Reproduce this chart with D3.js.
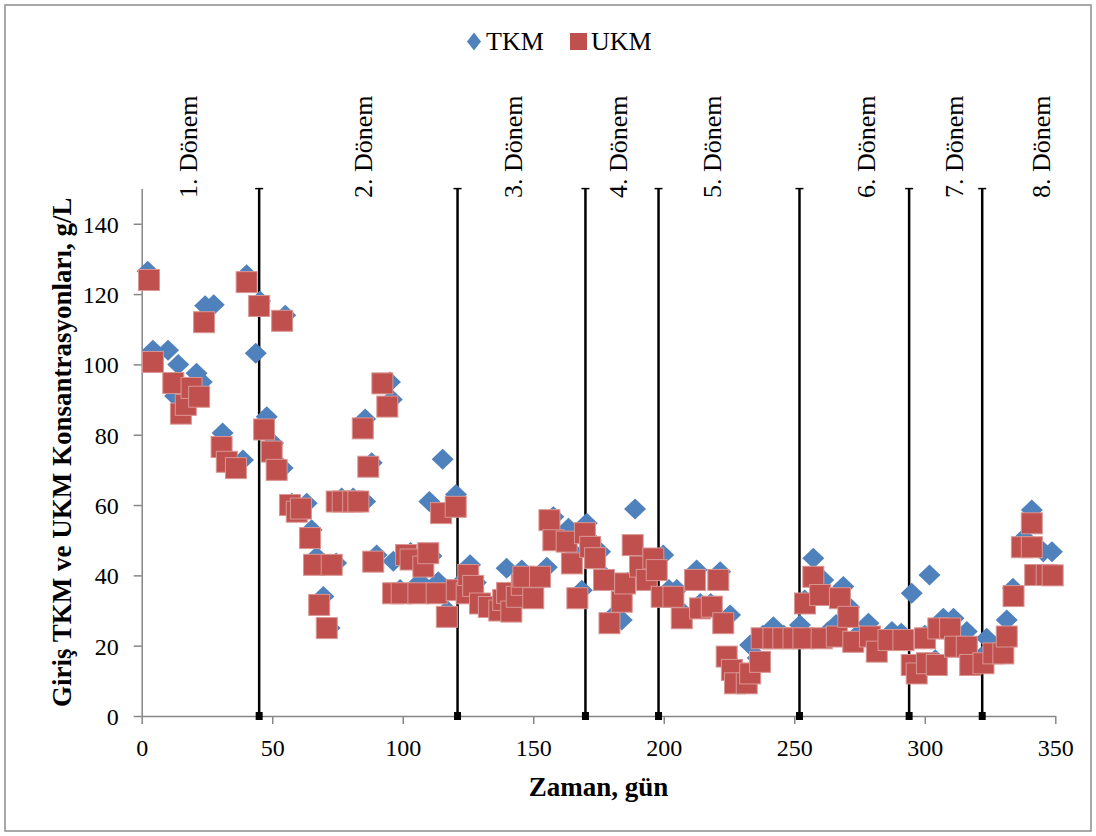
<!DOCTYPE html>
<html>
<head>
<meta charset="utf-8">
<script src="https://cdn.jsdelivr.net/npm/d3@7"></script>
<style>
  body { margin: 0; background: #fff; }
  svg text { font-family: "Liberation Serif", "Times New Roman", serif; }
</style>
</head>
<body>
<div id="chart"></div>
<script>
// TKM (blue diamonds)
const tkmDays = [2.3, 4.3, 10.1, 12.8, 14, 21, 23, 24.3, 27.6, 31, 38.8, 40.2, 43.7, 45.3, 47.9, 50.3, 54, 55, 57.5, 63.2,
  65.1, 67, 69.6, 72, 74.5, 76.6, 81, 85.6, 85.6, 88.1, 90, 95.1, 95.8, 96.4, 99, 103, 106.6, 110.2, 111, 113.6,
  115.3, 117, 120.4, 121, 125.8, 128, 132, 136, 139.8, 145.6, 150, 152, 155.2, 157.7, 160, 163.5, 166, 168.6, 170.5, 172,
  175.6, 177, 180, 183.9, 186, 189, 191, 194, 197, 199.8, 202, 205, 208, 212.6, 214, 218, 221.6, 225.4, 226, 228,
  231, 233.1, 236, 238, 242, 246, 250, 252.2, 254, 257.3, 261.1, 263, 266, 268.8, 271, 274, 278.4, 282, 287.4, 291,
  295, 297, 300, 301.8, 304, 307.1, 311, 312, 316.1, 318, 322, 323.7, 327, 330, 331.4, 333.8, 337.2, 339, 341, 345.4, 348.7];
const tkmValues = [126.5, 104, 104, 91, 100, 97.5, 95, 116.7, 117, 80.5, 72.8, 125.5, 103.2, 118, 85.1, 77.6, 70.5, 114, 60.5, 60.5,
  53, 45.3, 34, 25, 43.5, 62, 62, 84.5, 61, 72, 45.8, 95, 90, 44, 36, 46.5, 38.2, 61, 45.5, 38.2,
  73, 30, 63, 37, 43, 38, 32, 31, 42, 41.5, 35, 38, 42.3, 56.7, 51, 53.4, 46, 35.8, 54.8, 50,
  46.7, 40, 28, 27.3, 38, 58.9, 45, 40, 44, 45.8, 36, 36, 29, 41.5, 32, 32, 41, 28.7, 15, 12,
  10.5, 20.2, 16.5, 23, 25.4, 23, 23, 25.9, 33, 44.9, 38.7, 24, 26, 36.8, 31, 23, 26.4, 20, 24, 23.5,
  34.9, 14, 23, 40.1, 16, 27.8, 27.8, 21, 24, 17, 17, 22.1, 19.5, 20, 27.3, 36.3, 50, 50, 58.6, 46.7, 46.7];

// UKM (red squares)
const ukmDays = [2.8, 4.3, 12.1, 15, 16.9, 19.1, 22, 23.9, 30.6, 32.6, 36.1, 40.2, 45, 46.9, 49.8, 51.7, 53.8, 56.8, 59.4, 61,
  64.5, 66, 68, 70.9, 72.8, 74.7, 77, 81, 83, 84.7, 86.8, 88.7, 92.2, 94.1, 96.3, 99.6, 101.3, 103, 106, 107.9,
  109.8, 113, 114.7, 116.9, 120.3, 120.7, 124.5, 125.1, 127, 129.6, 133, 137, 138.5, 140, 141.6, 143.7, 145.6, 146.2, 150, 152.6,
  156.2, 157.7, 162.8, 164.8, 166.9, 169.8, 171.8, 173.7, 177.1, 179.2, 183.9, 185.2, 188.1, 190.9, 193.5, 196, 197.3, 199.2, 203.7, 206.9,
  212, 213.9, 218.4, 220.9, 222.8, 224.1, 226.1, 227.3, 231.8, 233.1, 236.9, 237.5, 242, 245.8, 249.7, 253.5, 254.1, 257.3, 259.9, 260.5,
  266.3, 267.5, 270.7, 272.6, 279, 281.6, 286.1, 291.8, 295, 296.9, 300.1, 300.8, 304.6, 305.2, 309.7, 311.6, 316.1, 317.4, 322.5, 326.3,
  330.1, 331.4, 334, 337.2, 341, 341, 342.3, 346.7, 349];
const ukmValues = [124, 100.7, 94.7, 86, 88.5, 93.3, 90.8, 112, 76.5, 72.3, 70.5, 123.4, 116.6, 81.5, 75.2, 70, 112.4, 60, 58.1, 59,
  50.6, 43, 31.6, 25, 43, 61, 61, 61, 61, 81.8, 70.9, 43.9, 94.6, 88, 34.9, 34.9, 45.8, 44.5, 34.9, 42.5,
  46.3, 34.9, 57.7, 28.2, 59.5, 35.8, 34.9, 40.1, 37, 32, 31, 30, 33, 35, 29.7, 33.9, 37.3, 39.6, 33.5, 39.6,
  55.7, 50, 49.6, 43.4, 33.5, 52, 48.1, 44.9, 38.7, 26.4, 32.5, 37.7, 48.6, 42.5, 38.7, 44.8, 41.5, 33.9, 33.9, 27.8,
  38.7, 30.6, 31.1, 38.7, 26.4, 16.9, 13.1, 9.3, 9.3, 12.1, 15.4, 22.1, 22.1, 22.1, 22.1, 22.1, 32, 39.6, 34.4, 22.1,
  22.6, 33.5, 28.2, 21.1, 22.6, 18.3, 21.6, 21.6, 14.5, 12.1, 22.1, 15, 14.5, 24.9, 24.9, 19.7, 19.7, 14.5, 15, 17.8,
  17.8, 22.6, 34.1, 48, 54.8, 48, 40.1, 40.1, 40];

// period boundaries and labels
const periodDays = [45, 121, 170, 198, 252, 294, 322];
const periodLabels = ["1. Dönem", "2. Dönem", "3. Dönem", "4. Dönem", "5. Dönem", "6. Dönem", "7. Dönem", "8. Dönem"];
const periodLabelDays = [18.2, 85.2, 142.6, 182.9, 218.9, 277.9, 311.6, 345];

const xTicks = [0, 50, 100, 150, 200, 250, 300, 350];
const yTicks = [0, 20, 40, 60, 80, 100, 120, 140];

const W = 1096, H = 836;
const margin = { top: 188.6, right: 40.7, bottom: 120, left: 141.7 };

const svg = d3.select('#chart').append('svg')
  .attr('width', W)
  .attr('height', H);

svg.append('rect')
  .attr('x', 5).attr('y', 5)
  .attr('width', W - 10).attr('height', H - 10)
  .attr('fill', '#fff')
  .attr('stroke', '#8c8c8c')
  .attr('stroke-width', 1.5);

const x = d3.scaleLinear().domain([0, 350]).range([margin.left, W - margin.right]);
const y = d3.scaleLinear().domain([0, 150]).range([H - margin.bottom, margin.top]);

// axes
const xAxis = svg.append('g')
  .attr('transform', `translate(0,${y(0)})`)
  .call(d3.axisBottom(x).tickValues(xTicks).tickSize(8).tickSizeOuter(0).tickPadding(15));
const yAxis = svg.append('g')
  .attr('transform', `translate(${x(0)},0)`)
  .call(d3.axisLeft(y).tickValues(yTicks).tickSize(8).tickSizeOuter(0).tickPadding(15));

[xAxis, yAxis].forEach(g => {
  g.select('.domain').attr('stroke', '#868686').attr('stroke-width', 1.5);
  g.selectAll('.tick line').attr('stroke', '#868686').attr('stroke-width', 1.5);
  g.selectAll('.tick text')
    .attr('font-size', '24px')
    .attr('fill', '#000')
    .style('font-family', '"Liberation Serif", serif');
});
yAxis.selectAll('.tick text').attr('dy', '0.35em');

// period lines
const periods = svg.append('g');
periodDays.forEach(d => {
  periods.append('line')
    .attr('x1', x(d)).attr('x2', x(d))
    .attr('y1', y(0)).attr('y2', y(150))
    .attr('stroke', '#000')
    .attr('stroke-width', 2.5);
  periods.append('line')
    .attr('x1', x(d) - 4).attr('x2', x(d) + 4)
    .attr('y1', y(150)).attr('y2', y(150))
    .attr('stroke', '#000')
    .attr('stroke-width', 1.5);
  periods.append('rect')
    .attr('x', x(d) - 3.5).attr('y', y(0) - 4)
    .attr('width', 7).attr('height', 8)
    .attr('fill', '#000');
});

periodLabels.forEach((t, i) => {
  const px = x(periodLabelDays[i]);
  svg.append('text')
    .attr('transform', `translate(${px + 8},198) rotate(-90)`)
    .attr('font-size', '26px')
    .attr('fill', '#000')
    .text(t);
});

// markers
const diamond = (cx, cy, hw, hh) => `M${cx},${cy - hh}L${cx + hw},${cy}L${cx},${cy + hh}L${cx - hw},${cy}Z`;

svg.append('g').selectAll('path')
  .data(tkmDays.map((d, i) => [d, tkmValues[i]]))
  .join('path')
  .attr('d', d => diamond(x(d[0]), y(d[1]), 11, 10.5))
  .attr('fill', '#4f81bd');

svg.append('g').selectAll('rect')
  .data(ukmDays.map((d, i) => [d, ukmValues[i]]))
  .join('rect')
  .attr('x', d => x(d[0]) - 10.5)
  .attr('y', d => y(d[1]) - 10.5)
  .attr('width', 21)
  .attr('height', 21)
  .attr('fill', '#c0504d')
  .attr('stroke', '#d99694')
  .attr('stroke-width', 1);

// legend
const legend = svg.append('g');
legend.append('path')
  .attr('d', diamond(474, 41.5, 7, 9))
  .attr('fill', '#4f81bd');
legend.append('text')
  .attr('x', 486).attr('y', 50)
  .attr('font-size', '26px')
  .text('TKM');
legend.append('rect')
  .attr('x', 570).attr('y', 33)
  .attr('width', 17).attr('height', 17)
  .attr('fill', '#c0504d');
legend.append('text')
  .attr('x', 591).attr('y', 50)
  .attr('font-size', '26px')
  .text('UKM');

// axis titles
svg.append('text')
  .attr('x', (x(0) + x(350)) / 2)
  .attr('y', 796)
  .attr('text-anchor', 'middle')
  .attr('font-size', '27px')
  .attr('font-weight', 'bold')
  .text('Zaman, gün');

svg.append('text')
  .attr('transform', `translate(71,${(y(0) + y(150)) / 2}) rotate(-90)`)
  .attr('text-anchor', 'middle')
  .attr('font-size', '27px')
  .attr('font-weight', 'bold')
  .text('Giriş TKM ve UKM Konsantrasyonları, g/L');
</script>
</body>
</html>
